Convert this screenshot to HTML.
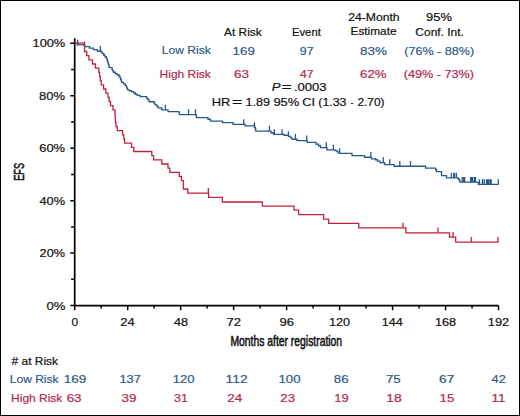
<!DOCTYPE html>
<html><head><meta charset="utf-8"><title>EFS</title>
<style>html,body{margin:0;padding:0;background:#fff;}body{width:520px;height:416px;overflow:hidden;font-family:"Liberation Sans",sans-serif;}svg{display:block;}</style>
</head><body>
<svg width="520" height="416" viewBox="0 0 520 416">
<rect x="0" y="0" width="520" height="416" fill="#fff"/>
<rect x="0.5" y="0.5" width="519" height="415" fill="none" stroke="#000" stroke-width="1"/>
<g fill="none" stroke="#000" stroke-width="1.7" stroke-linecap="butt">
<path d="M74.7,38.2V305.6H498.5"/>
<path d="M74.70,305.6V310.20000000000005M101.19,305.6V308.6M127.68,305.6V310.20000000000005M154.17,305.6V308.6M180.66,305.6V310.20000000000005M207.15,305.6V308.6M233.64,305.6V310.20000000000005M260.13,305.6V308.6M286.62,305.6V310.20000000000005M313.11,305.6V308.6M339.60,305.6V310.20000000000005M366.09,305.6V308.6M392.58,305.6V310.20000000000005M419.07,305.6V308.6M445.56,305.6V310.20000000000005M472.05,305.6V308.6M498.54,305.6V310.20000000000005M74.7,305.60H70.3M74.7,279.36H71.10000000000001M74.7,253.12H70.3M74.7,226.88H71.10000000000001M74.7,200.64H70.3M74.7,174.40H71.10000000000001M74.7,148.16H70.3M74.7,121.92H71.10000000000001M74.7,95.68H70.3M74.7,69.44H71.10000000000001M74.7,43.20H70.3" stroke-width="1.5"/>
</g>
<g fill="none" stroke-width="1.6" stroke-linejoin="miter" stroke-linecap="butt">
<path d="M74.7,43.2H77.2V44.95H84.6V46.65H89.5V48.15H93.5V49.65H97.5V51.25H101.2V52.15H102.5V53.65H103.8V55.25H105V56.75H106.3V58.25H107V59.85H107.5V61.35H107.9V62.95H108.4V64.45H108.8V66.05H109.2V67.55H112V69.15H112.4V70.65H113.4V72.25H115.3V73.55H117.2V74.75H119V76.25H120V77.85H120.6V79.35H121.2V80.95H121.6V82.45H123.5V83.85H125.2V85.35H126.3V86.85H126.9V88.35H127.6V89.95H129.5V90.75H131.5V91.65H133.4V92.75H135.3V94.25H137.2V95.35H140.1V96.65H146.5V98.15H147.8V99.65H149V101.75H154.2V103.35H155V104.85H157V106.35H158V107.85H161.5V108.95H162V109.85H168V111.55H179V113.05H179.4V114.55H196.2V116.15H196.5V117.65H208V119.25H210.5V121.05H222.5V122.65H233V124.45H245V125.85H254.6V127.55H255.4V129.25H255.8V131.05H271V132.75H273.5V134.45H284V135.25H288.5V136.45H290.5V137.95H292V139.25H297V140.65H307.2V142.35H316V144.05H318.5V145.75H320.5V147.55H327V149.85H335V150.65H337V151.95H339V153.45H352V155.65H364.5V157.25H371.5V158.85H375.5V159.75H377.5V161.05H380V162.55H384.5V164.55H394.2V166.25H425.5V168.15H435.7V169.75H436.5V171.65H441.5V175.55H446.5V177.85H458.3V179.25H459.5V180.75H460V182.15H478.3V184.45H498.5" stroke="#28588a" stroke-width="1.3"/>
<path d="M77.7,39.75V44.95M84.5,41.45V46.65M100.3,46.05V51.25M165.4,104.65V109.85M188.5,109.35V114.55M195.5,109.35V114.55M243.8,119.25V124.45M254.4,122.35V127.55M269.4,125.85V131.05M274.3,129.25V134.45M282.1,129.25V134.45M288.4,131.25V136.45M295.4,134.05V139.25M306.7,135.45V140.65M326.3,142.35V147.55M333.3,144.65V149.85M339.6,148.25V153.45M370.9,152.05V157.25M383.3,157.35V162.55M389.8,159.35V164.55M399.8,161.05V166.25M410.5,161.05V166.25M451.3,172.65V177.85M453.7,172.65V177.85M454.5,172.65V177.85M456.4,172.65V177.85M462.2,176.95V182.15M463.7,176.95V182.15M464.7,176.95V182.15M470.6,176.95V182.15M471.5,176.95V182.15M472.8,176.95V182.15M474.6,176.95V182.15M475.5,176.95V182.15M479.5,179.25V184.45M482.5,179.25V184.45M484.2,179.25V184.45M486.6,179.25V184.45M487.8,179.25V184.45M489.1,179.25V184.45M490.6,179.25V184.45M491.2,179.25V184.45M498.3,179.25V184.45" stroke="#28588a" stroke-width="1.3"/>
<path d="M74.7,43.2H84.5V51.50H86.7V55.70H88.9V59.90H92.5V64.00H95.5V68.20H98.8V72.40H99.6V76.50H100.3V80.70H101.2V84.90H103.6V89.00H105.8V93.20H108.0V97.40H109.2V101.50H110.5V105.70H113.0V109.90H115.0V114.00H115.2V118.20H115.4V122.40H116.0V126.50H117.3V130.70H122.6V134.90H123.8V139.00H124.6V143.20H131.5V147.40H133.8V151.50H151.8V155.70H153.6V159.90H161.8V164.00H168.0V168.20H169.8V172.40H179.3V176.50H181.5V180.70H183.4V189.00H187.8V193.20H208.6V197.40H222.4V202.00H262.4V206.20H294.0V210.20H298.7V214.60H323.6V219.20H328.6V223.40H358.7V227.90H405.9V232.80H449.5V237.20H455.7V242.20H498.5" stroke="#c2223f" stroke-width="1.3"/>
<path d="M208.3,188.00V193.20M403,222.70V227.90M438,227.60V232.80M453,232.00V237.20M471.2,237.00V242.20M498,237.00V242.20" stroke="#c2223f" stroke-width="1.3"/>
</g>
<g font-family="'Liberation Sans', sans-serif">
<text x="224.00" y="35.5" font-size="11.5" fill="#111" stroke="#111" stroke-width="0.2" textLength="37.69" lengthAdjust="spacingAndGlyphs">At Risk</text>
<text x="291.88" y="35.6" font-size="11.5" fill="#111" stroke="#111" stroke-width="0.2" textLength="29.00" lengthAdjust="spacingAndGlyphs">Event</text>
<text x="348.17" y="21.0" font-size="11.5" fill="#111" stroke="#111" stroke-width="0.2" textLength="51.51" lengthAdjust="spacingAndGlyphs">24-Month</text>
<text x="350.53" y="35.4" font-size="11.5" fill="#111" stroke="#111" stroke-width="0.2" textLength="46.04" lengthAdjust="spacingAndGlyphs">Estimate</text>
<text x="426.12" y="20.9" font-size="11.5" fill="#111" stroke="#111" stroke-width="0.2" textLength="25.78" lengthAdjust="spacingAndGlyphs">95%</text>
<text x="415.34" y="35.7" font-size="11.5" fill="#111" stroke="#111" stroke-width="0.2" textLength="48.59" lengthAdjust="spacingAndGlyphs">Conf. Int.</text>
<text x="161.86" y="54.4" font-size="11.5" fill="#2d5b88" stroke="#2d5b88" stroke-width="0.2" textLength="48.84" lengthAdjust="spacingAndGlyphs">Low Risk</text>
<text x="232.63" y="54.5" font-size="11.5" fill="#2d5b88" stroke="#2d5b88" stroke-width="0.2" textLength="22.23" lengthAdjust="spacingAndGlyphs">169</text>
<text x="299.81" y="54.5" font-size="11.5" fill="#2d5b88" stroke="#2d5b88" stroke-width="0.2" textLength="13.75" lengthAdjust="spacingAndGlyphs">97</text>
<text x="360.08" y="54.5" font-size="11.5" fill="#2d5b88" stroke="#2d5b88" stroke-width="0.2" textLength="26.93" lengthAdjust="spacingAndGlyphs">83%</text>
<text x="404.28" y="54.5" font-size="11.5" fill="#2d5b88" stroke="#2d5b88" stroke-width="0.2" textLength="69.83" lengthAdjust="spacingAndGlyphs">(76% - 88%)</text>
<text x="159.58" y="77.5" font-size="11.5" fill="#b3284d" stroke="#b3284d" stroke-width="0.2" textLength="51.20" lengthAdjust="spacingAndGlyphs">High Risk</text>
<text x="234.08" y="77.5" font-size="11.5" fill="#b3284d" stroke="#b3284d" stroke-width="0.2" textLength="15.07" lengthAdjust="spacingAndGlyphs">63</text>
<text x="300.05" y="77.5" font-size="11.5" fill="#b3284d" stroke="#b3284d" stroke-width="0.2" textLength="13.44" lengthAdjust="spacingAndGlyphs">47</text>
<text x="360.12" y="77.5" font-size="11.5" fill="#b3284d" stroke="#b3284d" stroke-width="0.2" textLength="26.36" lengthAdjust="spacingAndGlyphs">62%</text>
<text x="403.76" y="77.5" font-size="11.5" fill="#b3284d" stroke="#b3284d" stroke-width="0.2" textLength="70.30" lengthAdjust="spacingAndGlyphs">(49% - 73%)</text>
<text x="271.70" y="91.1" font-size="11.5" fill="#111" stroke="#111" stroke-width="0.2" textLength="8.72" lengthAdjust="spacingAndGlyphs"><tspan font-style="italic">P</tspan></text>
<text x="281.21" y="91.1" font-size="11.5" fill="#111" stroke="#111" stroke-width="0" textLength="10.63" lengthAdjust="spacingAndGlyphs">=</text>
<text x="293.90" y="91.1" font-size="11.5" fill="#111" stroke="#111" stroke-width="0.2" textLength="32.69" lengthAdjust="spacingAndGlyphs">.0003</text>
<text x="211.86" y="106.2" font-size="11.5" fill="#111" stroke="#111" stroke-width="0.2" textLength="18.49" lengthAdjust="spacingAndGlyphs">HR</text>
<text x="231.88" y="106.2" font-size="11.5" fill="#111" stroke="#111" stroke-width="0" textLength="10.80" lengthAdjust="spacingAndGlyphs">=</text>
<text x="245.51" y="106.2" font-size="11.5" fill="#111" stroke="#111" stroke-width="0.2" textLength="24.45" lengthAdjust="spacingAndGlyphs">1.89</text>
<text x="273.41" y="106.2" font-size="11.5" fill="#111" stroke="#111" stroke-width="0.2" textLength="25.94" lengthAdjust="spacingAndGlyphs">95%</text>
<text x="302.37" y="106.2" font-size="11.5" fill="#111" stroke="#111" stroke-width="0.2" textLength="12.75" lengthAdjust="spacingAndGlyphs">CI</text>
<text x="318.38" y="106.2" font-size="11.5" fill="#111" stroke="#111" stroke-width="0.2" textLength="28.10" lengthAdjust="spacingAndGlyphs">(1.33</text>
<text x="350.72" y="106.2" font-size="11.5" fill="#111" stroke="#111" stroke-width="0.2" textLength="2.51" lengthAdjust="spacingAndGlyphs">-</text>
<text x="357.40" y="106.2" font-size="11.5" fill="#111" stroke="#111" stroke-width="0.2" textLength="27.09" lengthAdjust="spacingAndGlyphs">2.70)</text>
<text x="11.57" y="365.0" font-size="11.5" fill="#111" stroke="#111" stroke-width="0.2" textLength="46.48" lengthAdjust="spacingAndGlyphs"># at Risk</text>
<text x="9.87" y="383.2" font-size="11.5" fill="#2d5b88" stroke="#2d5b88" stroke-width="0.2" textLength="48.60" lengthAdjust="spacingAndGlyphs">Low Risk</text>
<text x="11.11" y="401.8" font-size="11.5" fill="#b3284d" stroke="#b3284d" stroke-width="0.2" textLength="51.22" lengthAdjust="spacingAndGlyphs">High Risk</text>
<text x="63.82" y="383.2" font-size="11.5" fill="#2d5b88" stroke="#2d5b88" stroke-width="0.2" textLength="22.57" lengthAdjust="spacingAndGlyphs">169</text>
<text x="119.44" y="383.2" font-size="11.5" fill="#2d5b88" stroke="#2d5b88" stroke-width="0.2" textLength="21.41" lengthAdjust="spacingAndGlyphs">137</text>
<text x="172.67" y="383.2" font-size="11.5" fill="#2d5b88" stroke="#2d5b88" stroke-width="0.2" textLength="21.74" lengthAdjust="spacingAndGlyphs">120</text>
<text x="225.59" y="383.2" font-size="11.5" fill="#2d5b88" stroke="#2d5b88" stroke-width="0.2" textLength="22.10" lengthAdjust="spacingAndGlyphs">112</text>
<text x="278.49" y="383.2" font-size="11.5" fill="#2d5b88" stroke="#2d5b88" stroke-width="0.2" textLength="22.17" lengthAdjust="spacingAndGlyphs">100</text>
<text x="333.87" y="383.2" font-size="11.5" fill="#2d5b88" stroke="#2d5b88" stroke-width="0.2" textLength="14.70" lengthAdjust="spacingAndGlyphs">86</text>
<text x="385.91" y="383.2" font-size="11.5" fill="#2d5b88" stroke="#2d5b88" stroke-width="0.2" textLength="14.80" lengthAdjust="spacingAndGlyphs">75</text>
<text x="439.11" y="383.2" font-size="11.5" fill="#2d5b88" stroke="#2d5b88" stroke-width="0.2" textLength="15.25" lengthAdjust="spacingAndGlyphs">67</text>
<text x="491.55" y="383.2" font-size="11.5" fill="#2d5b88" stroke="#2d5b88" stroke-width="0.2" textLength="14.31" lengthAdjust="spacingAndGlyphs">42</text>
<text x="66.65" y="401.8" font-size="11.5" fill="#b3284d" stroke="#b3284d" stroke-width="0.2" textLength="14.86" lengthAdjust="spacingAndGlyphs">63</text>
<text x="121.59" y="401.8" font-size="11.5" fill="#b3284d" stroke="#b3284d" stroke-width="0.2" textLength="14.93" lengthAdjust="spacingAndGlyphs">39</text>
<text x="174.07" y="401.8" font-size="11.5" fill="#b3284d" stroke="#b3284d" stroke-width="0.2" textLength="13.72" lengthAdjust="spacingAndGlyphs">31</text>
<text x="227.15" y="401.8" font-size="11.5" fill="#b3284d" stroke="#b3284d" stroke-width="0.2" textLength="15.00" lengthAdjust="spacingAndGlyphs">24</text>
<text x="280.38" y="401.8" font-size="11.5" fill="#b3284d" stroke="#b3284d" stroke-width="0.2" textLength="14.74" lengthAdjust="spacingAndGlyphs">23</text>
<text x="334.34" y="401.8" font-size="11.5" fill="#b3284d" stroke="#b3284d" stroke-width="0.2" textLength="14.28" lengthAdjust="spacingAndGlyphs">19</text>
<text x="386.21" y="401.8" font-size="11.5" fill="#b3284d" stroke="#b3284d" stroke-width="0.2" textLength="15.52" lengthAdjust="spacingAndGlyphs">18</text>
<text x="439.55" y="401.8" font-size="11.5" fill="#b3284d" stroke="#b3284d" stroke-width="0.2" textLength="14.80" lengthAdjust="spacingAndGlyphs">15</text>
<text x="491.55" y="401.8" font-size="11.5" fill="#b3284d" stroke="#b3284d" stroke-width="0.2" textLength="14.06" lengthAdjust="spacingAndGlyphs">11</text>
<text x="230.41" y="346.0" font-size="14.5" fill="#111" stroke="#111" stroke-width="0.55" textLength="111.72" lengthAdjust="spacingAndGlyphs">Months after registration</text>
<text x="32.53" y="47.3" font-size="11.5" fill="#111" stroke="#111" stroke-width="0.2" textLength="32.72" lengthAdjust="spacingAndGlyphs">100%</text>
<text x="39.08" y="99.7" font-size="11.5" fill="#111" stroke="#111" stroke-width="0.2" textLength="25.92" lengthAdjust="spacingAndGlyphs">80%</text>
<text x="39.25" y="152.1" font-size="11.5" fill="#111" stroke="#111" stroke-width="0.2" textLength="25.79" lengthAdjust="spacingAndGlyphs">60%</text>
<text x="39.51" y="204.5" font-size="11.5" fill="#111" stroke="#111" stroke-width="0.2" textLength="25.56" lengthAdjust="spacingAndGlyphs">40%</text>
<text x="39.60" y="256.9" font-size="11.5" fill="#111" stroke="#111" stroke-width="0.2" textLength="25.46" lengthAdjust="spacingAndGlyphs">20%</text>
<text x="46.43" y="309.5" font-size="11.5" fill="#111" stroke="#111" stroke-width="0.2" textLength="18.83" lengthAdjust="spacingAndGlyphs">0%</text>
<text x="71.42" y="325.5" font-size="11.5" fill="#111" stroke="#111" stroke-width="0.2" textLength="6.61" lengthAdjust="spacingAndGlyphs">0</text>
<text x="120.27" y="325.5" font-size="11.5" fill="#111" stroke="#111" stroke-width="0.2" textLength="14.45" lengthAdjust="spacingAndGlyphs">24</text>
<text x="173.94" y="325.5" font-size="11.5" fill="#111" stroke="#111" stroke-width="0.2" textLength="14.04" lengthAdjust="spacingAndGlyphs">48</text>
<text x="226.40" y="325.5" font-size="11.5" fill="#111" stroke="#111" stroke-width="0.2" textLength="14.60" lengthAdjust="spacingAndGlyphs">72</text>
<text x="279.43" y="325.5" font-size="11.5" fill="#111" stroke="#111" stroke-width="0.2" textLength="14.54" lengthAdjust="spacingAndGlyphs">96</text>
<text x="328.96" y="325.5" font-size="11.5" fill="#111" stroke="#111" stroke-width="0.2" textLength="21.15" lengthAdjust="spacingAndGlyphs">120</text>
<text x="381.87" y="325.5" font-size="11.5" fill="#111" stroke="#111" stroke-width="0.2" textLength="20.99" lengthAdjust="spacingAndGlyphs">144</text>
<text x="434.90" y="325.5" font-size="11.5" fill="#111" stroke="#111" stroke-width="0.2" textLength="21.16" lengthAdjust="spacingAndGlyphs">168</text>
<text x="487.80" y="325.5" font-size="11.5" fill="#111" stroke="#111" stroke-width="0.2" textLength="21.47" lengthAdjust="spacingAndGlyphs">192</text>
<text transform="translate(23.9,180.8) rotate(-90)" x="0" y="0" font-size="13.8" fill="#111" stroke="#111" stroke-width="0.55" textLength="17.8" lengthAdjust="spacingAndGlyphs">EFS</text>
</g>
</svg>
</body></html>
